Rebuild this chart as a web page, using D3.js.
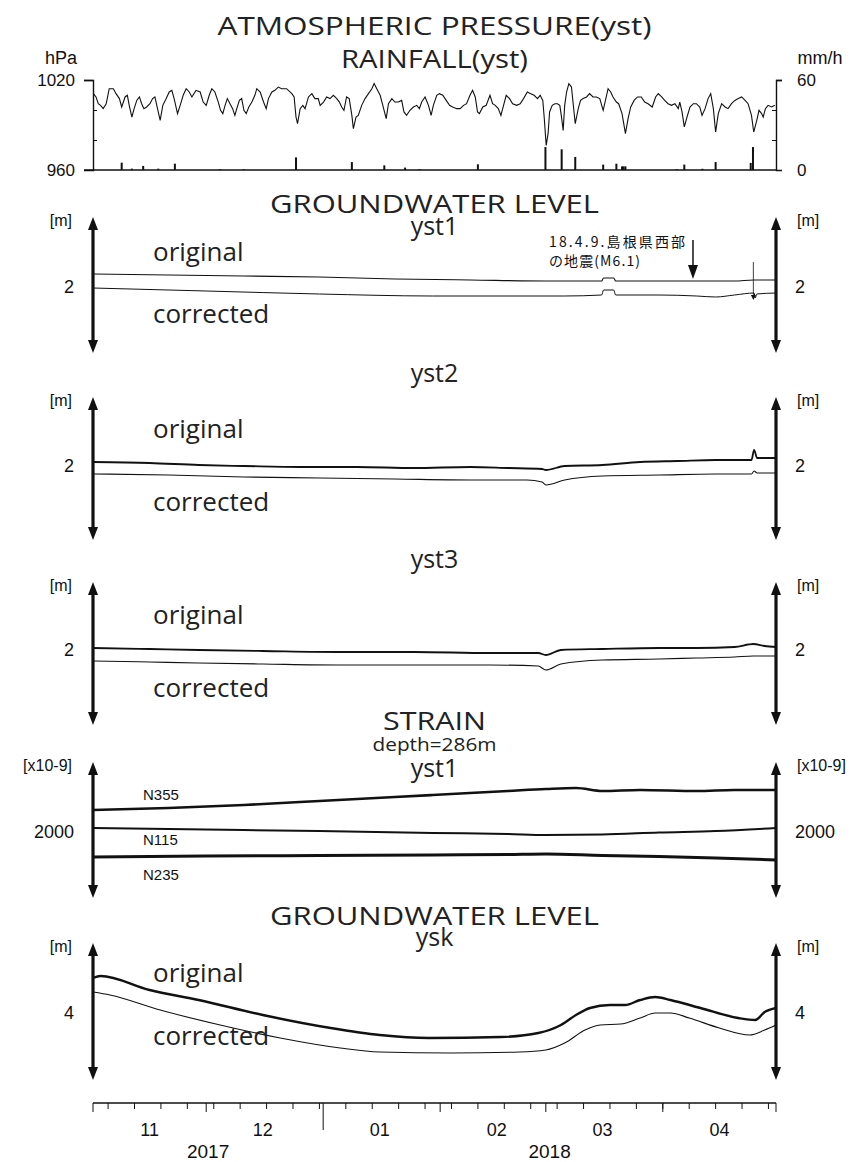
<!DOCTYPE html>
<html>
<head>
<meta charset="utf-8">
<script src="https://cdn.jsdelivr.net/npm/d3@7"></script>
<style>
  body { margin: 0; background: #fff; }
  .title { font-family: "Open Sans", Lato, sans-serif; fill: #222; text-anchor: middle; }
  .word { font-family: "Open Sans", Lato, sans-serif; fill: #222; }
  .num { font-family: "Liberation Sans", Arial, sans-serif; fill: #111; }
  .jp { font-family: "Noto Sans CJK JP", sans-serif; fill: #111; }
</style>
</head>
<body>
<svg id="chart" width="863" height="1162"></svg>
<script>
// time span of every panel: 2017-11-01 .. 2018-05-01, data given as day offsets
const startDate = new Date(2017, 10, 1);
const endDate = new Date(2018, 4, 1);

// atmospheric pressure [day, hPa]
const pressure = [
  [0.1,1010.9],[0.8,1008.7],[1.4,1004.2],[2.0,1003.1],[2.7,1000.9],[3.5,1004.2],[4.3,1014.2],[5.4,1014.2],
  [6.1,1010.9],[7.0,1007.6],[7.6,1002.0],[8.5,1008.7],[9.1,1009.8],[9.6,1003.1],[10.3,995.3],[10.9,1000.9],
  [11.6,1006.4],[12.3,1008.7],[12.9,1004.2],[13.5,1000.9],[14.2,1002.0],[15.1,1004.2],[15.8,1007.6],[16.4,1008.7],
  [17.1,1000.9],[17.8,993.1],[18.5,1003.1],[19.4,1007.6],[20.2,1012.0],[20.9,1013.1],[21.5,1007.6],[22.4,997.6],
  [23.1,1003.1],[23.9,1009.8],[24.7,1014.2],[25.5,1012.0],[26.2,1008.7],[27.3,1013.1],[28.4,1012.0],[29.2,1005.3],
  [30.0,1003.1],[30.8,1009.8],[31.5,1014.2],[32.3,1012.0],[33.2,1005.3],[33.8,999.8],[34.4,997.6],[35.0,1003.1],
  [35.6,1007.6],[36.3,1004.2],[37.0,1000.9],[37.6,996.4],[38.1,1000.9],[38.8,1006.4],[39.4,1007.6],[40.0,999.8],
  [40.6,997.6],[41.3,1002.0],[42.1,1005.3],[42.9,1009.8],[43.4,1014.2],[44.3,1012.0],[45.2,1005.3],[45.9,1000.9],
  [46.5,1007.6],[47.4,1012.0],[48.2,1013.1],[49.1,1015.3],[50.0,1014.2],[51.3,1014.2],[52.7,1010.9],[53.3,1008.7],
  [53.8,995.3],[54.2,990.9],[54.9,1000.9],[55.6,1003.1],[56.2,1000.9],[57.1,1008.7],[58.0,1010.9],[58.8,1007.6],
  [59.7,1007.6],[60.2,1003.1],[61.1,1005.3],[61.9,1008.7],[62.8,1007.6],[63.7,1009.8],[64.6,1007.6],[65.3,1005.3],
  [65.9,1002.0],[66.5,999.8],[67.2,1008.7],[67.9,1007.6],[68.6,996.4],[69.0,987.6],[69.7,995.3],[70.3,996.4],
  [71.2,1003.1],[72.1,1007.6],[73.0,1010.9],[73.9,1014.2],[74.5,1017.6],[75.2,1014.2],[76.1,1009.8],[76.8,1003.1],
  [77.7,994.2],[78.3,1004.2],[79.2,1007.6],[80.0,1005.3],[80.9,1005.3],[81.8,1006.4],[82.4,998.7],[83.1,996.4],
  [84.0,999.8],[84.9,1002.0],[85.8,1003.1],[86.5,1000.9],[87.1,1005.3],[88.0,1008.7],[88.9,1003.1],[89.6,996.4],
  [90.2,1003.1],[91.1,1009.8],[91.8,1010.9],[92.7,1009.8],[93.6,1006.4],[94.5,1003.1],[95.3,1002.0],[96.4,1000.9],
  [97.3,1000.9],[98.2,1003.1],[99.0,1004.2],[99.9,1009.8],[100.6,1013.1],[101.3,1008.7],[101.9,998.7],[102.4,997.6],
  [103.3,1002.0],[104.2,1003.1],[105.2,1009.8],[105.9,1004.2],[106.6,1003.1],[107.4,1000.9],[108.1,996.4],[108.8,1003.1],
  [109.5,1009.8],[110.4,1007.6],[111.2,1004.2],[112.3,1003.1],[113.2,1004.2],[114.1,1007.6],[115.1,1012.0],[116.0,1010.9],
  [116.9,1009.8],[117.8,1007.6],[118.5,1009.8],[119.2,1006.4],[119.6,994.2],[120.1,976.4],[120.6,984.2],[121.0,998.7],
  [121.7,1003.1],[122.4,1004.2],[123.1,1004.2],[123.7,1003.1],[124.1,996.4],[124.6,986.4],[125.0,1003.1],[125.5,1012.0],
  [126.1,1017.6],[126.8,1015.3],[127.2,1005.3],[127.8,990.9],[128.6,1000.9],[129.2,1006.4],[129.9,1007.6],[130.8,1008.7],
  [131.6,1010.9],[132.5,1008.7],[133.4,1008.7],[134.3,1007.6],[135.2,999.8],[135.8,1006.4],[136.5,1014.2],[137.2,1012.0],
  [137.8,1008.7],[138.7,1005.3],[139.3,1004.2],[140.2,997.6],[141.1,984.2],[141.8,994.2],[142.5,1002.0],[143.4,1006.4],
  [144.3,1008.7],[145.3,1008.7],[146.2,1005.3],[147.1,1004.2],[148.2,1002.0],[149.1,1008.7],[149.8,1010.9],[150.7,1008.7],
  [151.5,1006.4],[152.4,1004.2],[153.3,1003.1],[154.2,1004.2],[155.1,1000.9],[155.5,1005.3],[156.1,998.7],[156.7,988.7],
  [157.3,994.2],[158.2,1002.0],[159.1,1004.2],[159.9,1004.2],[160.8,1002.0],[161.4,996.4],[162.2,1000.9],[163.0,1007.6],
  [163.7,1010.9],[164.4,1000.9],[165.0,985.3],[165.7,997.6],[166.6,1004.2],[167.5,1002.0],[168.3,1000.9],[169.2,1004.2],
  [170.1,1006.4],[171.0,1007.6],[171.9,1008.7],[172.8,1006.4],[173.6,1004.2],[174.5,996.4],[175.1,985.3],[175.9,993.1],
  [176.5,999.8],[177.2,997.6],[177.6,995.3],[178.2,1000.9],[178.9,1003.1],[179.8,1002.0],[180.7,1003.1]
];

// hourly rainfall peaks [day, mm/h]
const rainfall = [
  [7.6,4.9],[10.3,0.9],[13.3,2.7],[17.3,0.9],[21.7,4.2],[33.7,0.5],[39.9,0.5],[53.8,8.4],[68.6,5.3],
  [77.2,3.1],[82.7,1.6],[86.5,0.5],[102.0,3.8],[119.9,15.3],[124.2,13.8],[127.8,8.7],[135.2,3.6],
  [138.7,4.2],[140.2,2.4],[140.6,2.4],[141.1,2.4],[154.7,0.5],[156.7,3.6],[161.5,0.8],[165.0,5.3],
  [174.3,4.7],[174.9,15.3]
];

// groundwater level yst1 [day, m]
const yst1Original = [
  [0,2.13],[20,2.12],[40,2.11],[60,2.10],[80,2.08],[100,2.07],[120,2.06],[134.8,2.06],[135.3,2.09],
  [138,2.09],[138.5,2.06],[150,2.06],[160,2.06],[170,2.06],[175,2.07],[181,2.07]
];
const yst1Corrected = [
  [0,1.99],[30,1.96],[60,1.93],[90,1.91],[110,1.91],[125,1.91],[134.8,1.92],[135.3,1.97],[138,1.97],
  [138.5,1.92],[150,1.92],[160,1.91],[165,1.90],[170,1.92],[175.2,1.94],[175.5,1.89],[175.9,1.93],[181,1.94]
];
// groundwater level yst2
const yst2Original = [
  [0,2.04],[15,2.03],[28,2.01],[40,2.00],[55,1.99],[70,1.99],[85,1.98],[100,1.99],[110,1.98],
  [119,1.97],[120,1.96],[125,2.00],[135,2.01],[145,2.04],[155,2.05],[165,2.06],[174.5,2.06],
  [175.2,2.16],[176,2.08],[181,2.08]
];
const yst2Corrected = [
  [0,1.92],[20,1.91],[40,1.89],[60,1.88],[80,1.87],[100,1.86],[115,1.86],[119,1.84],[120,1.81],
  [125,1.86],[135,1.90],[150,1.91],[165,1.92],[174.5,1.92],[175.2,1.95],[176,1.93],[181,1.93]
];
// groundwater level yst3
const yst3Original = [
  [0,2.02],[15,2.01],[28,2.00],[45,1.99],[65,1.98],[85,1.98],[105,1.97],[118,1.97],[120,1.95],
  [124,2.00],[135,2.01],[150,2.02],[160,2.02],[170,2.03],[175,2.06],[178,2.04],[181,2.03]
];
const yst3Corrected = [
  [0,1.89],[15,1.88],[28,1.87],[45,1.86],[65,1.85],[85,1.85],[105,1.85],[118,1.84],[120,1.80],
  [124,1.86],[135,1.90],[150,1.91],[160,1.92],[170,1.93],[175,1.94],[181,1.94]
];
// strain yst1 [day, x10-9]
const strainN355 = [
  [0,2220],[20,2240],[40,2270],[60,2310],[80,2350],[90,2370],[110,2410],[120,2430],[128,2440],
  [135,2410],[145,2420],[160,2410],[170,2420],[181,2420]
];
const strainN115 = [
  [0,2040],[20,2030],[40,2020],[60,2010],[90,1990],[110,1980],[120,1970],[135,1975],[150,1995],
  [165,2010],[181,2040]
];
const strainN235 = [
  [0,1750],[30,1760],[60,1765],[90,1770],[110,1775],[120,1780],[135,1765],[150,1755],[165,1740],
  [181,1720]
];
// groundwater level ysk [day, m]
const yskOriginal = [
  [0,4.70],[2,4.74],[15,4.46],[28,4.26],[45,3.96],[63,3.70],[76,3.56],[89,3.50],[108,3.52],[118,3.60],
  [124,3.76],[128,3.96],[131.7,4.10],[137,4.16],[141,4.16],[145,4.26],[149,4.32],[153,4.26],[161,4.10],
  [171,3.90],[175.5,3.86],[178,4.02],[181,4.10]
];
const yskCorrected = [
  [0,4.42],[4.5,4.36],[17.8,4.06],[33.7,3.76],[49.6,3.50],[65.5,3.30],[76,3.22],[95,3.20],[113,3.22],
  [120,3.26],[125,3.40],[130.4,3.66],[134.4,3.76],[139.8,3.78],[145,3.90],[149,4.00],[153,4.00],
  [158,3.90],[166,3.70],[174,3.56],[178,3.66],[181,3.76]
];

const quakeDay = 159;       // 2018-04-09
const maintenanceDay = 175; // step mark on yst1

const svg = d3.select("#chart");
const x0 = 93, x1 = 776;
const x = d3.scaleTime().domain([startDate, endDate]).range([x0, x1]);
const dayToDate = (d) => new Date(startDate.getTime() + d * 864e5);

function title(text, y, size, width) {
  const t = svg.append("text").attr("class", "title").attr("x", (x0 + x1) / 2).attr("y", y)
    .style("font-size", size + "px").text(text);
  if (width) t.attr("textLength", width).attr("lengthAdjust", "spacingAndGlyphs");
}
function label(text, xp, y, size, anchor, cls) {
  return svg.append("text").attr("class", cls || "num").attr("x", xp).attr("y", y)
    .attr("text-anchor", anchor || "start").style("font-size", size + "px").text(text);
}

// ---------- pressure / rainfall ----------
title("ATMOSPHERIC PRESSURE(yst)", 35, 26, 434);
title("RAINFALL(yst)", 68, 26, 187);

const pTop = 80, pBottom = 170;
const yP = d3.scaleLinear().domain([960, 1020]).range([pBottom, pTop]);
const yR = d3.scaleLinear().domain([0, 60]).range([pBottom, pTop]);

svg.append("g").attr("transform", `translate(${x0},0)`)
  .call(d3.axisLeft(yP).tickValues([1020]).tickSize(9).tickFormat(""))
  .call((g) => g.selectAll("path, line").attr("stroke", "#111").attr("stroke-width", 1.4));
svg.append("g").attr("transform", `translate(${x1},0)`)
  .call(d3.axisRight(yR).tickValues([60]).tickSize(6).tickFormat(""))
  .call((g) => g.selectAll("path, line").attr("stroke", "#111").attr("stroke-width", 1.4));
svg.append("g").attr("transform", `translate(${x0},0)`)
  .call(d3.axisRight(yP).tickValues([980, 1000]).tickSize(4).tickFormat(""))
  .call((g) => g.select(".domain").remove())
  .call((g) => g.selectAll("line").attr("stroke", "#111"));
svg.append("g").attr("transform", `translate(${x1},0)`)
  .call(d3.axisLeft(yR).tickValues([20, 40]).tickSize(4).tickFormat(""))
  .call((g) => g.select(".domain").remove())
  .call((g) => g.selectAll("line").attr("stroke", "#111"));
svg.append("line").attr("x1", x0 - 9).attr("x2", x1).attr("y1", pBottom).attr("y2", pBottom)
  .attr("stroke", "#111").attr("stroke-width", 1.5);

svg.append("g").selectAll("rect").data(rainfall).enter().append("rect")
  .attr("x", (d) => x(dayToDate(d[0])) - 1)
  .attr("width", 2)
  .attr("y", (d) => yR(d[1]))
  .attr("height", (d) => pBottom - yR(d[1]))
  .attr("fill", "#111");

svg.append("path").datum(pressure)
  .attr("fill", "none").attr("stroke", "#111").attr("stroke-width", 1.1)
  .attr("d", d3.line().x((d) => x(dayToDate(d[0]))).y((d) => yP(d[1])));

label("hPa", 61, 64, 18, "middle");
label("1020", 75, yP(1020) + 6, 17, "end");
label("960", 75, yP(960) + 6, 17, "end");
label("mm/h", 820, 64, 18, "middle");
label("60", 797, yR(60) + 6, 17);
label("0", 797, yR(0) + 6, 17);

// ---------- arrow-axis panels ----------
const panels = [
  { top: 217, bottom: 353, ref: 2, refY: 287, perUnit: 100, unit: "[m]", refText: "2",
    series: [[yst1Original, 1.1], [yst1Corrected, 1.0]],
    words: [["original", 261], ["corrected", 323]] },
  { top: 397, bottom: 540, ref: 2, refY: 466, perUnit: 100, unit: "[m]", refText: "2",
    series: [[yst2Original, 1.8], [yst2Corrected, 1.1]],
    words: [["original", 438], ["corrected", 511]] },
  { top: 582, bottom: 725, ref: 2, refY: 650, perUnit: 100, unit: "[m]", refText: "2",
    series: [[yst3Original, 1.8], [yst3Corrected, 1.1]],
    words: [["original", 624], ["corrected", 697]] },
  { top: 762, bottom: 898, ref: 2000, refY: 832, perUnit: 0.1, unit: "[x10-9]", refText: "2000",
    series: [[strainN355, 2.6], [strainN115, 2.0], [strainN235, 3.0]],
    words: [] },
  { top: 943, bottom: 1080, ref: 4, refY: 1013, perUnit: 50, unit: "[m]", refText: "4",
    series: [[yskOriginal, 2.4], [yskCorrected, 1.1]],
    words: [["original", 982], ["corrected", 1045]] }
];

const head = 13, half = 5;
panels.forEach((p) => {
  p.y = d3.scaleLinear().domain([p.ref, p.ref + 1]).range([p.refY, p.refY - p.perUnit]);
  [x0, x1].forEach((xa) => {
    svg.append("line").attr("x1", xa).attr("x2", xa).attr("y1", p.top + head - 1).attr("y2", p.bottom - head + 1)
      .attr("stroke", "#111").attr("stroke-width", 3.2);
    svg.append("path").attr("fill", "#111")
      .attr("d", `M${xa},${p.top} L${xa + half},${p.top + head} L${xa - half},${p.top + head} Z`);
    svg.append("path").attr("fill", "#111")
      .attr("d", `M${xa},${p.bottom} L${xa + half},${p.bottom - head} L${xa - half},${p.bottom - head} Z`);
  });
  const line = d3.line().curve(d3.curveMonotoneX).x((d) => x(dayToDate(d[0]))).y((d) => p.y(d[1]));
  p.series.forEach(([data, w]) => {
    svg.append("path").datum(data).attr("fill", "none").attr("stroke", "#111")
      .attr("stroke-width", w).attr("d", line);
  });
  label(p.unit, 72, p.top + 9, 16, "end");
  label(p.unit, 797, p.top + 9, 16, "start");
  label(p.refText, 74, p.y(p.ref) + 6, 18, "end");
  label(p.refText, 795, p.y(p.ref) + 6, 18, "start");
  p.words.forEach(([w, yb]) => label(w, 153, yb, 26, "start", "word"));
});

title("GROUNDWATER LEVEL", 213, 26, 329);
title("yst1", 235, 25);
title("yst2", 382, 25);
title("yst3", 568, 25);
title("STRAIN", 730, 26, 103);
title("depth=286m", 751, 19, 124);
title("yst1", 777, 25);
title("GROUNDWATER LEVEL", 925, 26, 329);
title("ysk", 946, 25);

// strain component names
label("N355", 143, 800, 15);
label("N115", 143, 845, 15);
label("N235", 143, 880, 15);

// earthquake annotation
const qx = x(dayToDate(quakeDay));
svg.append("text").attr("class", "jp").attr("x", 549).attr("y", 247).style("font-size", "14px")
  .attr("textLength", 136).attr("lengthAdjust", "spacing").text("18.4.9.島根県西部");
svg.append("text").attr("class", "jp").attr("x", 549).attr("y", 266).style("font-size", "14px")
  .attr("textLength", 91).attr("lengthAdjust", "spacing").text("の地震(M6.1)");
svg.append("line").attr("x1", qx).attr("x2", qx).attr("y1", 240).attr("y2", 266)
  .attr("stroke", "#111").attr("stroke-width", 1.5);
svg.append("path").attr("d", `M${qx - 5},265 L${qx + 5},265 L${qx},279 Z`).attr("fill", "#111");

// maintenance mark on yst1
const mx = x(dayToDate(maintenanceDay));
const py1 = panels[0].y;
svg.append("line").attr("x1", mx).attr("x2", mx).attr("y1", py1(2.25)).attr("y2", py1(1.92))
  .attr("stroke", "#111").attr("stroke-width", 0.8);
svg.append("path").attr("fill", "#111")
  .attr("d", `M${mx - 2.5},${py1(1.92)} L${mx + 2.5},${py1(1.92)} L${mx},${py1(1.87)} Z`);

// ---------- time axis ----------
const axisY = 1103;
svg.append("line").attr("x1", x0).attr("x2", x1).attr("y1", axisY).attr("y2", axisY)
  .attr("stroke", "#111").attr("stroke-width", 1.5);
const weeks = d3.timeSunday.range(startDate, endDate);
const months = d3.timeMonth.range(startDate, d3.timeDay.offset(endDate, 1));
svg.append("g").selectAll("line").data(weeks).enter().append("line")
  .attr("x1", (d) => x(d)).attr("x2", (d) => x(d)).attr("y1", axisY).attr("y2", axisY + 6)
  .attr("stroke", "#111");
svg.append("g").selectAll("line").data(months).enter().append("line")
  .attr("x1", (d) => x(d)).attr("x2", (d) => x(d)).attr("y1", axisY)
  .attr("y2", (d) => axisY + (d.getMonth() === 0 ? 27 : 9))
  .attr("stroke", "#111");
const monthLabels = d3.timeMonth.range(startDate, endDate);
svg.append("g").selectAll("text").data(monthLabels).enter().append("text")
  .attr("class", "num").attr("text-anchor", "middle").style("font-size", "18px")
  .attr("x", (d) => x(d3.timeDay.offset(d, 15)))
  .attr("y", axisY + 33)
  .text(d3.timeFormat("%m"));
const years = [[new Date(2017, 10, 1), new Date(2018, 0, 1)], [new Date(2018, 0, 1), endDate]];
svg.append("g").selectAll("text").data(years).enter().append("text")
  .attr("class", "num").attr("text-anchor", "middle").style("font-size", "19px")
  .attr("x", (d) => (x(d[0]) + x(d[1])) / 2)
  .attr("y", axisY + 55)
  .text((d) => d[0].getFullYear());
</script>
</body>
</html>
